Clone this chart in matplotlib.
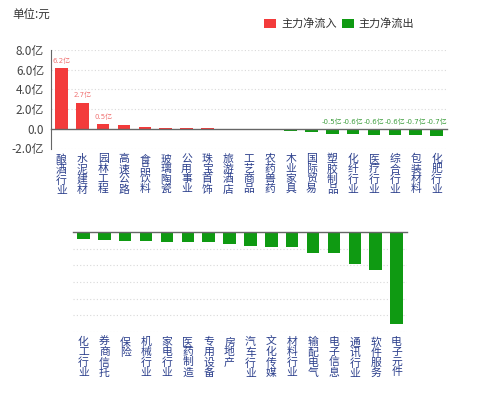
import matplotlib.pyplot as plt
import numpy as np
from matplotlib.patches import Patch

plt.rcParams['font.family'] = ['Noto Sans CJK SC', 'DejaVu Sans']

# 行业资金流向 (亿元)
top_cats = ['酿酒行业', '水泥建材', '园林工程', '高速公路', '食品饮料', '玻璃陶瓷', '公用事业',
            '珠宝首饰', '旅游酒店', '工艺商品', '农药兽药', '木业家具', '国际贸易', '塑胶制品',
            '化纤行业', '医疗行业', '综合行业', '包装材料', '化肥行业']
top_vals = [6.18, 2.67, 0.5, 0.34, 0.17, 0.1, 0.07, 0.05, 0.03, -0.02, -0.1, -0.25, -0.3,
            -0.52, -0.57, -0.6, -0.62, -0.68, -0.74]

bottom_cats = ['化工行业', '券商信托', '保险', '机械行业', '家电行业', '医药制造', '专用设备',
               '房地产', '汽车行业', '文化传媒', '材料行业', '输配电气', '电子信息', '通讯行业',
               '软件服务', '电子元件']
bottom_vals = [-0.84, -0.96, -1.01, -1.05, -1.13, -1.2, -1.2, -1.45, -1.65, -1.8, -1.8,
               -2.5, -2.53, -3.82, -4.5, -11.1]

top_yticks = [-2, 0, 2, 4, 6, 8]
bottom_yticks = [-12, -10, -8, -6, -4, -2, 0]

red = '#f33b3b'
green = '#0f9a12'
label_col = '#2b3f8c'
grid_col = '#d9d9d9'
axis_col = '#666666'

fig = plt.figure(figsize=(4.99, 3.96), dpi=100)

def setup(ax, cats, yticks):
    ax.set_xlim(-0.5, len(cats) - 0.5)
    ax.set_ylim(yticks[0], yticks[-1])
    for s in ax.spines.values():
        s.set_visible(False)
    ax.set_yticks(yticks)
    for t in yticks:
        if t != 0:
            ax.axhline(t, color=grid_col, lw=0.8, ls=(0, (1, 2)), zorder=0)
    ax.axhline(0, color=axis_col, lw=1, zorder=3, clip_on=False)
    ax.set_xticks(np.arange(len(cats)))
    ax.set_xticklabels(['\n'.join(c) for c in cats], fontsize=7.8, color=label_col,
                       linespacing=1.0)
    ax.tick_params(axis='x', length=0, pad=4)

# --- upper chart ---
ax1 = fig.add_axes([0.1022, 0.625, 0.7936, 0.2487])
setup(ax1, top_cats, top_yticks)
ax1.spines['left'].set_visible(True)
ax1.spines['left'].set_color(axis_col)
ax1.set_yticklabels(['0.0' if t == 0 else f'{t:.1f}亿' for t in top_yticks],
                    fontsize=8.5, color='#444444')
ax1.tick_params(axis='y', length=0, pad=5)
x1 = np.arange(len(top_cats))
cols1 = [red if v > 0 else green for v in top_vals]
ax1.bar(x1, top_vals, width=0.6, color=cols1, zorder=2)
for xi, v in zip(x1, top_vals):
    if abs(v) >= 0.45:
        ax1.annotate(f'{v:.1f}亿', (xi, max(v, 0)), xytext=(0, 3), textcoords='offset points',
                     ha='center', va='bottom', fontsize=5.0,
                     family=['DejaVu Sans', 'Noto Sans CJK SC'],
                     color='#f07373' if v > 0 else '#3f9f3f')

# --- lower chart ---
ax2 = fig.add_axes([0.1463, 0.1624, 0.6693, 0.251])
setup(ax2, bottom_cats, bottom_yticks)
ax2.set_yticks([])
x2 = np.arange(len(bottom_cats))
ax2.bar(x2, bottom_vals, width=0.6, color=green, zorder=2)

fig.text(0.024, 0.965, '单位:元', fontsize=8.3, color='#333333', va='center', ha='left')
fig.legend(handles=[Patch(facecolor=red, label='主力净流入'),
                    Patch(facecolor=green, label='主力净流出')],
           loc='center', bbox_to_anchor=(0.68, 0.94), ncol=2, frameon=False,
           fontsize=8, handlelength=1.1, handleheight=0.9, handletextpad=0.4,
           columnspacing=0.5, labelcolor='#333333')

fig.savefig('out.png', dpi=100)
